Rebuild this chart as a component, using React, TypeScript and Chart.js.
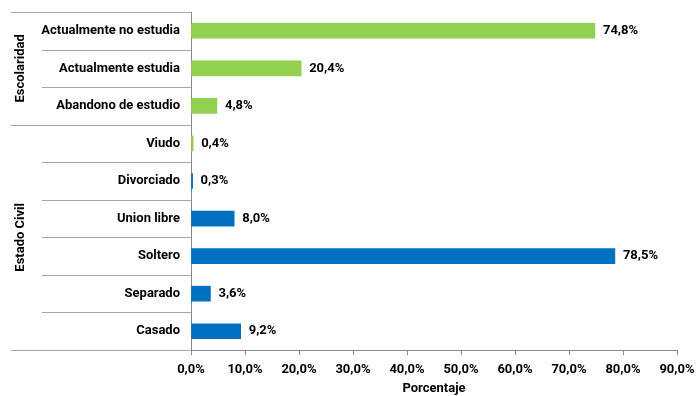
import React, { useEffect, useRef } from "react";
import { Chart, registerables } from "chart.js";

Chart.register(...registerables);

const categories = [
  "Actualmente no estudia",
  "Actualmente estudia",
  "Abandono de estudio",
  "Viudo",
  "Divorciado",
  "Union libre",
  "Soltero",
  "Separado",
  "Casado",
];
const values = [74.8, 20.4, 4.8, 0.4, 0.3, 8.0, 78.5, 3.6, 9.2];
const groupNames = ["Escolaridad", "Estado Civil"];
const groupSizes = [3, 6];
const barColors = [
  "#92D050", "#92D050", "#92D050", "#92D050",
  "#0070C0", "#0070C0", "#0070C0", "#0070C0", "#0070C0",
];
const xTickValues = [0, 10, 20, 30, 40, 50, 60, 70, 80, 90];
const xTitle = "Porcentaje";

const FONT = "Roboto, 'Liberation Sans', sans-serif";
const fmt = (v: number) => v.toFixed(1).replace(".", ",") + "%";

const groupPlugin = {
  id: "groupPlugin",
  afterDraw(chart: any) {
    const ctx = chart.ctx;
    const y = chart.scales.y;
    const area = chart.chartArea;
    const n = categories.length;
    const step = n > 1 ? y.getPixelForValue(1) - y.getPixelForValue(0) : 0;
    ctx.save();
    ctx.strokeStyle = "#A6A6A6";
    ctx.lineWidth = 1;
    const groupEnds = new Set<number>();
    let acc = 0;
    groupEnds.add(0);
    groupSizes.forEach((s) => { acc += s; groupEnds.add(acc); });
    for (let i = 0; i <= n; i++) {
      const py = Math.round(y.getPixelForValue(i) - step / 2) + 0.5;
      const x0 = groupEnds.has(i) ? 11 : 42;
      ctx.beginPath();
      ctx.moveTo(x0, py);
      ctx.lineTo(area.left, py);
      ctx.stroke();
    }
    ctx.fillStyle = "#000";
    ctx.font = `bold 13px ${FONT}`;
    ctx.textAlign = "center";
    ctx.textBaseline = "middle";
    let start = 0;
    groupSizes.forEach((s, gi) => {
      const top = y.getPixelForValue(start) - step / 2;
      const bot = y.getPixelForValue(start + s - 1) + step / 2;
      ctx.save();
      ctx.translate(21, (top + bot) / 2);
      ctx.rotate(-Math.PI / 2);
      ctx.fillText(groupNames[gi], 0, 0);
      ctx.restore();
      start += s;
    });
    const meta = chart.getDatasetMeta(0);
    ctx.textAlign = "left";
    meta.data.forEach((el: any, i: number) => {
      ctx.fillText(fmt(values[i]), el.x + 8, el.y);
    });
    ctx.restore();
  },
};

export default function App() {
  const ref = useRef<HTMLCanvasElement>(null);
  useEffect(() => {
    if (!ref.current) return;
    const chart = new Chart(ref.current, {
      type: "bar",
      data: {
        labels: categories,
        datasets: [
          {
            data: values,
            backgroundColor: barColors,
            borderWidth: 0,
            barThickness: 15,
          },
        ],
      },
      plugins: [groupPlugin],
      options: {
        indexAxis: "y",
        responsive: false,
        animation: false,
        devicePixelRatio: 1,
        layout: { padding: { left: 0, top: 12, right: 19, bottom: 0 } },
        plugins: { legend: { display: false }, tooltip: { enabled: false } },
        scales: {
          x: {
            min: 0,
            max: 90,
            afterBuildTicks: (scale: any) => {
              scale.ticks = xTickValues.map((v) => ({ value: v }));
            },
            grid: {
              drawOnChartArea: false,
              drawTicks: true,
              tickLength: 5,
              color: "#868686",
            },
            border: { display: true, color: "#868686" },
            ticks: {
              color: "#000",
              padding: 7,
              maxRotation: 0,
              font: { family: FONT, size: 13, weight: "bold" },
              callback: (v: any) => fmt(Number(v)),
            },
            title: {
              display: true,
              text: xTitle,
              color: "#000",
              padding: { top: 2, bottom: -1 },
              font: { family: FONT, size: 13, weight: "bold" },
            },
            afterFit: (scale: any) => {
              scale.height = 46;
              scale.paddingLeft = 0;
              scale.paddingRight = 0;
            },
          },
          y: {
            grid: { display: false, drawTicks: false, tickLength: 0 },
            border: { display: true, color: "#868686" },
            ticks: {
              color: "#000",
              padding: 11,
              font: { family: FONT, size: 13, weight: "bold" },
            },
            afterFit: (scale: any) => {
              scale.width = 191;
              scale.paddingTop = 0;
              scale.paddingBottom = 0;
            },
          },
        },
      },
    } as any);
    return () => chart.destroy();
  }, []);
  return (
    <div style={{ position: "absolute", left: 0, top: 0, width: 696, height: 396, background: "#fff" }}>
      <canvas ref={ref} width={696} height={396} />
    </div>
  );
}
